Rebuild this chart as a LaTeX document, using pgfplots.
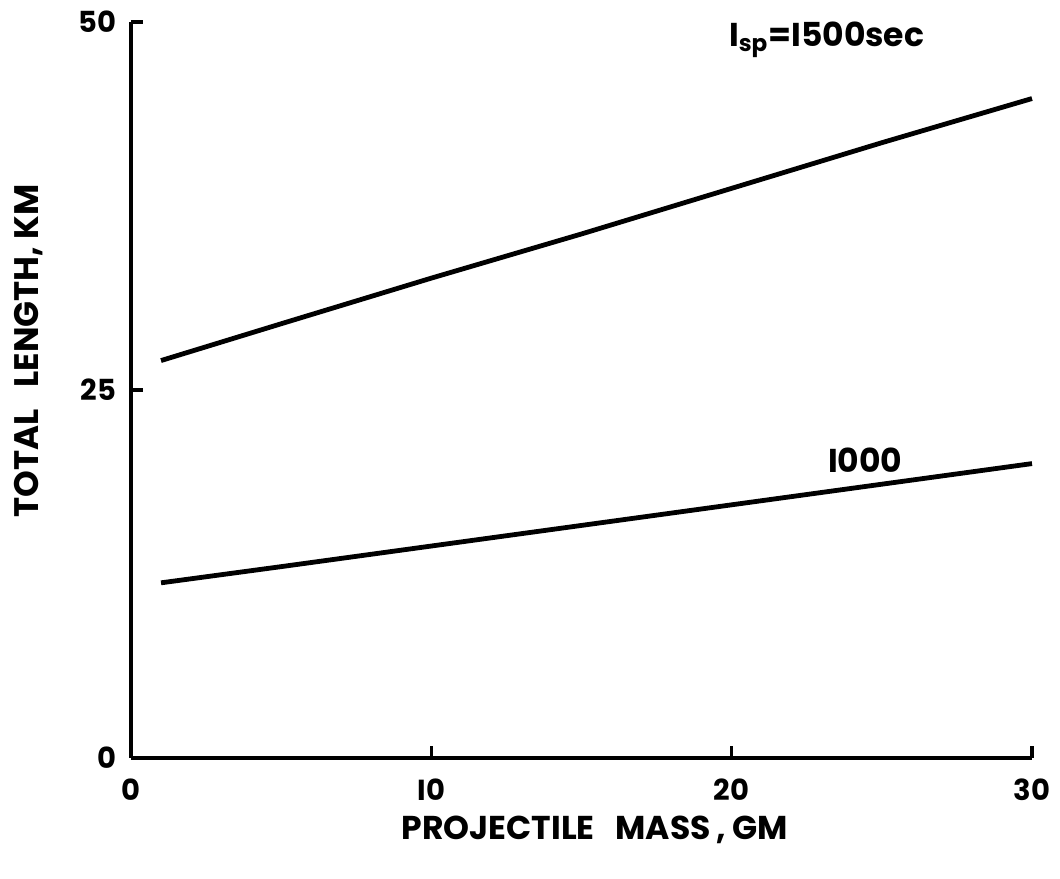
\documentclass[border=0pt]{standalone}
\usepackage{fontspec}
\setmainfont{Poppins}
\usepackage{pgfplots}
\pgfplotsset{compat=1.18}
\begin{document}
\begin{tikzpicture}[x=1pt,y=1pt]
\useasboundingbox (0,0) rectangle (530,439);
\begin{axis}[
  at={(65.5pt,60pt)}, anchor=south west,
  scale only axis, width=450.5pt, height=368pt,
  xmin=0, xmax=30, ymin=0, ymax=50,
  axis x line*=bottom, axis y line*=left,
  axis line style={line width=2pt, -},
  every tick/.style={line width=1.8pt, black},
  tick align=inside, major tick length=6pt,
  xtick={0,10,20,30}, ytick={0,25,50},
  xticklabels={0,{I0},20,30},
  /pgf/number format/assume math mode=true,
  tick label style={font=\fontsize{14.5}{14.5}\selectfont\bfseries},
  xticklabel style={yshift=-7pt},
  yticklabel style={xshift=-4pt},
  label style={font=\fontsize{16.5}{16.5}\selectfont\bfseries},
  xlabel={PROJECTILE\ \ \ MASS\,, GM},
  ylabel={TOTAL\ \ \ LENGTH, KM},
  xlabel style={at={(axis description cs:0.515,-0.098)}, anchor=center},
  ylabel style={at={(axis description cs:-0.114,0.553)}, anchor=center, font=\fontsize{17}{17}\selectfont\bfseries},
  clip=false,
]
\addplot[black, line width=2.4pt] coordinates {
  (1,27.0) (5,29.5) (10,32.6) (15,35.6) (20,38.7) (25,41.8) (30,44.8)
};
\addplot[black, line width=2.4pt] coordinates {
  (1,11.9) (5,13.0) (10,14.4) (15,15.8) (20,17.2) (25,18.6) (30,20.0)
};
\node[anchor=west, font=\fontsize{16.5}{16.5}\selectfont\bfseries, inner sep=0pt] at (axis cs:19.9,48.8) {I\textsubscript{sp}=I500sec};
\node[anchor=west, font=\fontsize{16.5}{16.5}\selectfont\bfseries, inner sep=0pt] at (axis cs:23.2,20.2) {I000};
\end{axis}
\end{tikzpicture}
\end{document}
